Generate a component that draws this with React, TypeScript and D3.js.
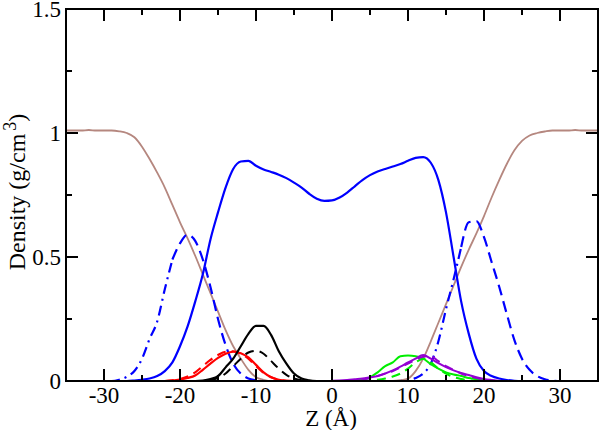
import React from "react";
import * as d3 from "d3";

// ---------- data ----------
const zFull = [
  -35, -34, -33, -32, -31, -30, -29, -28, -27, -26, -25, -24, -23, -22, -21, -20, -19, -18,
  -17, -16, -15, -14, -13, -12, -11, -10, -9, -8, -7, -6, -5, -4, -3, -2, -1, 0, 1, 2, 3, 4,
  5, 6, 7, 8, 9, 10, 11, 12, 13, 14, 15, 16, 17, 18, 19, 20, 21, 22, 23, 24, 25, 26, 27, 28,
  29, 30, 31, 32, 33, 34, 35,
];

const brownWater = [
  1.01, 1.01, 1.01, 1.012, 1.01, 1.01, 1.01, 1.007, 1.0, 0.983, 0.945, 0.895, 0.84, 0.78, 0.71,
  0.64, 0.575, 0.505, 0.43, 0.355, 0.28, 0.205, 0.14, 0.09, 0.045, 0.015, 0.005, 0, 0, 0, 0, 0, 0,
  0, 0, 0, 0, 0, 0, 0, 0, 0, 0, 0, 0.003, 0.01, 0.04, 0.09, 0.16, 0.235, 0.31, 0.385, 0.46,
  0.53, 0.595, 0.665, 0.74, 0.81, 0.875, 0.93, 0.968, 0.99, 1.0, 1.006, 1.01, 1.01, 1.01, 1.012,
  1.01, 1.01, 1.01,
];

const blueSolid = [
  0, 0, 0, 0, 0, 0, 0, 0, 0, 0.002, 0.005, 0.01, 0.02, 0.04, 0.075, 0.14, 0.22, 0.32, 0.43,
  0.57, 0.68, 0.78, 0.855, 0.885, 0.888, 0.868, 0.853, 0.843, 0.832, 0.818, 0.8, 0.78, 0.755,
  0.735, 0.726, 0.728, 0.74, 0.76, 0.785, 0.81, 0.83, 0.845, 0.855, 0.865, 0.875, 0.888, 0.9,
  0.903, 0.88, 0.81, 0.68, 0.5, 0.32, 0.19, 0.09, 0.04, 0.02, 0.01, 0.004, 0.001, 0, 0, 0, 0,
  0, 0, 0, 0, 0, 0, 0,
];

const blueDashed = [
  0, 0, 0, 0, 0, 0, 0, 0.005, 0.017, 0.04, 0.09, 0.17, 0.24, 0.37, 0.49, 0.555, 0.59, 0.565,
  0.49, 0.38, 0.25, 0.145, 0.07, 0.03, 0.01, 0.003, 0, 0, 0, 0, 0, 0, 0, 0, 0, 0, 0, 0, 0, 0,
  0, 0, 0, 0, 0, 0.003, 0.012, 0.03, 0.07, 0.16, 0.29, 0.41, 0.54, 0.64, 0.645, 0.58, 0.48,
  0.38, 0.27, 0.165, 0.09, 0.045, 0.02, 0.007, 0.002, 0, 0, 0, 0, 0, 0,
];

const zLeft = [-22, -21, -20, -19, -18, -17, -16, -15, -14, -13, -12, -11, -10, -9, -8, -7, -6, -5, -4, -3, -2];
const blackSolid = [0, 0, 0, 0, 0, 0.002, 0.008, 0.02, 0.055, 0.09, 0.14, 0.19, 0.222, 0.222, 0.185, 0.12, 0.07, 0.03, 0.01, 0.003, 0];
const blackDashed = [0, 0, 0, 0, 0, 0, 0.003, 0.012, 0.03, 0.06, 0.09, 0.115, 0.122, 0.11, 0.08, 0.05, 0.025, 0.01, 0.003, 0, 0];
const redSolid = [0, 0.002, 0.006, 0.012, 0.022, 0.045, 0.07, 0.093, 0.11, 0.118, 0.112, 0.095, 0.065, 0.035, 0.015, 0.005, 0.001, 0, 0, 0, 0];
const redDashed = [0, 0.003, 0.008, 0.018, 0.035, 0.06, 0.085, 0.105, 0.118, 0.12, 0.11, 0.09, 0.06, 0.033, 0.015, 0.005, 0.001, 0, 0, 0, 0];

const zRight = [0, 1, 2, 3, 4, 5, 6, 7, 8, 9, 10, 11, 12, 13, 14, 15, 16, 17, 18, 19, 20, 21, 22, 23];
const greenSolid = [0, 0, 0, 0.002, 0.006, 0.015, 0.035, 0.06, 0.075, 0.1, 0.103, 0.1, 0.09, 0.068, 0.05, 0.035, 0.026, 0.02, 0.012, 0.008, 0.003, 0, 0, 0];
const greenDashed = [0, 0, 0, 0, 0, 0.002, 0.005, 0.01, 0.018, 0.03, 0.05, 0.075, 0.09, 0.075, 0.05, 0.03, 0.016, 0.008, 0.003, 0, 0, 0, 0, 0];
const purpleSolid = [0.001, 0.002, 0.004, 0.007, 0.01, 0.015, 0.02, 0.03, 0.043, 0.058, 0.075, 0.09, 0.105, 0.09, 0.072, 0.056, 0.043, 0.032, 0.024, 0.015, 0.008, 0.004, 0.001, 0];
const purpleDashed = [0, 0, 0, 0.003, 0.006, 0.012, 0.02, 0.03, 0.04, 0.055, 0.07, 0.085, 0.098, 0.1, 0.08, 0.06, 0.045, 0.03, 0.02, 0.012, 0.006, 0.002, 0, 0];

const xTicksMajor = [-30, -20, -10, 0, 10, 20, 30];
const xTicksMinor = [-35, -25, -15, -5, 5, 15, 25, 35];
const xTickLabels = ["-30", "-20", "-10", "0", "10", "20", "30"];
const yTicksMajor = [0, 0.5, 1, 1.5];
const yTicksMinor = [0.25, 0.75, 1.25];
const yTickLabels = ["0", "0.5", "1", "1.5"];

// ---------- layout ----------
const W = 600;
const H = 430;
const L = 66;
const R = 598;
const T = 9;
const B = 381;

const x = d3.scaleLinear().domain([-35, 35]).range([L, R]);
const y = d3.scaleLinear().domain([0, 1.5]).range([B, T]);

type Pt = [number, number];
const pairs = (zs: number[], vs: number[]): Pt[] => zs.map((z, i) => [z, vs[i]] as Pt);
const line = d3
  .line<Pt>()
  .x((d) => x(d[0]))
  .y((d) => y(d[1]))
  .curve(d3.curveMonotoneX);

const FONT = '"Liberation Serif", "Times New Roman", "DejaVu Serif", serif';

export default function App() {
  const bd = pairs(zFull, blueDashed);
  const bdDashDot = [bd.filter((d) => d[0] <= -21), bd.filter((d) => d[0] >= 5 && d[0] <= 17)];
  const bdDash = [bd.filter((d) => d[0] >= -21 && d[0] <= -5), bd.filter((d) => d[0] >= 17)];

  const series: { d: Pt[]; color: string; w: number; dash?: string }[] = [
    { d: pairs(zFull, brownWater), color: "#b5877f", w: 1.8 },
    { d: pairs(zFull, blueSolid), color: "#0000ff", w: 2.2 },
    ...bdDashDot.map((d) => ({ d, color: "#0000ff", w: 2.2, dash: "10,5,2,5" })),
    ...bdDash.map((d) => ({ d, color: "#0000ff", w: 2.2, dash: "11,6" })),
    { d: pairs(zLeft, redSolid), color: "#ff0000", w: 2.2 },
    { d: pairs(zLeft, redDashed), color: "#ff0000", w: 2.2, dash: "9,6" },
    { d: pairs(zLeft, blackSolid), color: "#000000", w: 2.2 },
    { d: pairs(zLeft, blackDashed), color: "#000000", w: 2, dash: "9,6" },
    { d: pairs(zRight, greenSolid), color: "#00ee00", w: 2 },
    { d: pairs(zRight, greenDashed), color: "#00ee00", w: 2, dash: "9,6" },
    { d: pairs(zRight, purpleSolid), color: "#9400d3", w: 2 },
    { d: pairs(zRight, purpleDashed), color: "#9400d3", w: 2, dash: "9,6" },
  ];

  const txt = { fontFamily: FONT };

  return (
    <svg
      width={W}
      height={H}
      style={{ position: "absolute", left: 0, top: 0, background: "#fff" }}
    >
      <defs>
        <clipPath id="plot">
          <rect x={L} y={T} width={R - L} height={B - T} />
        </clipPath>
      </defs>
      <rect x={0} y={0} width={W} height={H} fill="#fff" />
      <g clipPath="url(#plot)" fill="none" strokeLinejoin="round">
        {series.map((s, i) => (
          <path
            key={i}
            d={line(s.d) || ""}
            stroke={s.color}
            strokeWidth={s.w}
            strokeDasharray={s.dash}
          />
        ))}
      </g>
      {/* ticks */}
      <g stroke="#000" strokeWidth={2}>
        {xTicksMajor.map((t) => (
          <g key={"xM" + t}>
            <line x1={x(t)} x2={x(t)} y1={B} y2={B - 12} />
            <line x1={x(t)} x2={x(t)} y1={T} y2={T + 12} />
          </g>
        ))}
        {xTicksMinor.map((t) => (
          <g key={"xm" + t}>
            <line x1={x(t)} x2={x(t)} y1={B} y2={B - 6} />
            <line x1={x(t)} x2={x(t)} y1={T} y2={T + 6} />
          </g>
        ))}
        {yTicksMajor.map((t) => (
          <g key={"yM" + t}>
            <line x1={L} x2={L + 12} y1={y(t)} y2={y(t)} />
            <line x1={R} x2={R - 12} y1={y(t)} y2={y(t)} />
          </g>
        ))}
        {yTicksMinor.map((t) => (
          <g key={"ym" + t}>
            <line x1={L} x2={L + 6} y1={y(t)} y2={y(t)} />
            <line x1={R} x2={R - 6} y1={y(t)} y2={y(t)} />
          </g>
        ))}
      </g>
      <rect x={L} y={T} width={R - L} height={B - T} fill="none" stroke="#000" strokeWidth={2} />
      {/* tick labels */}
      <g fontSize={23} fill="#000" style={txt}>
        {xTicksMajor.map((t, i) => (
          <text key={"xl" + t} x={x(t)} y={B + 22} textAnchor="middle" style={txt}>
            {xTickLabels[i]}
          </text>
        ))}
        {yTicksMajor.map((t, i) => (
          <text key={"yl" + t} x={L - 5} y={y(t) + 8} textAnchor="end" style={txt}>
            {yTickLabels[i]}
          </text>
        ))}
      </g>
      <text x={331} y={426} fontSize={23} textAnchor="middle" style={txt}>
        Z (Å)
      </text>
      <text transform="translate(25,192) rotate(-90)" fontSize={24} textAnchor="middle" style={txt}>
        Density (g/cm
        <tspan dx={3} dy={-9} fontSize={18}>
          3
        </tspan>
        <tspan dy={9}>)</tspan>
      </text>
    </svg>
  );
}
